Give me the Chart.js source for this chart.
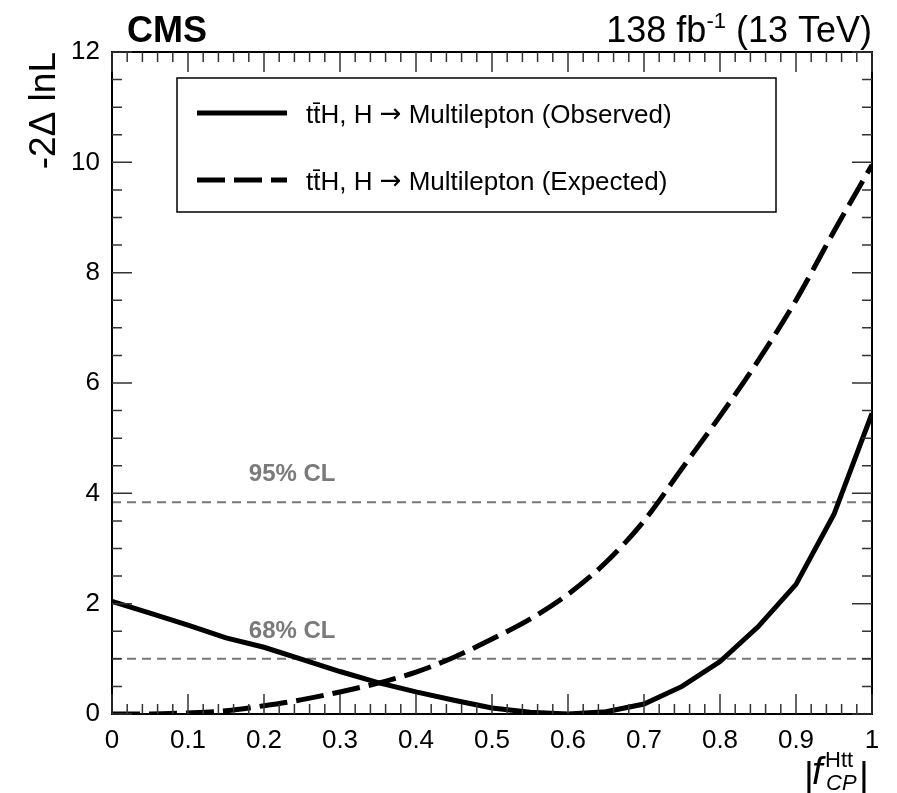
<!DOCTYPE html>
<html>
<head>
<meta charset="utf-8">
<script src="https://cdn.jsdelivr.net/npm/chart.js@4.4.1/dist/chart.umd.min.js"></script>
<style>
html,body{margin:0;padding:0;background:#fff;}
canvas{display:block;}
</style>
</head>
<body>
<canvas id="c" width="897" height="793"></canvas>
<script>
// values
const xVals = [0,0.05,0.1,0.15,0.2,0.25,0.3,0.35,0.4,0.45,0.5,0.55,0.6,0.65,0.7,0.75,0.8,0.85,0.9,0.95,1.0];
const observed = [2.04,1.83,1.61,1.38,1.21,0.99,0.77,0.57,0.40,0.25,0.11,0.03,0.00,0.04,0.18,0.50,0.95,1.58,2.35,3.62,5.45];
const expected = [0.00,0.00,0.02,0.06,0.15,0.26,0.40,0.56,0.76,1.03,1.36,1.72,2.17,2.75,3.50,4.45,5.40,6.40,7.50,8.75,9.95];
const clLevels = [3.84,1.0];
const clLabels = ['95% CL','68% CL'];
const seriesNames = [['tt\u0304H, H ','\u2192',' Multilepton (Observed)'],['tt\u0304H, H ','\u2192',' Multilepton (Expected)']];

const FONT = "'Liberation Sans', Arial, Helvetica, sans-serif";
const pts = ys => xVals.map((x,i)=>({x:x,y:ys[i]}));
const clData = lvl => [{x:0,y:lvl},{x:1,y:lvl}];

const ctx=document.getElementById('c').getContext('2d');

const rootStyle={
  id:'rootStyle',
  afterDraw(chart){
    const c=chart.ctx, a=chart.chartArea;
    const xs=chart.scales.x, ys=chart.scales.y;
    c.save();
    // frame
    c.strokeStyle='#000';c.lineWidth=2;c.setLineDash([]);
    c.strokeRect(a.left,a.top,a.right-a.left,a.bottom-a.top);
    // ticks inside the frame
    c.lineWidth=1.5;c.strokeStyle='#333';
    c.beginPath();
    for(let k=0;k<=50;k++){
      const v=k*0.02, px=xs.getPixelForValue(v);
      const len=(k%5===0)?20:10;
      c.moveTo(px,a.bottom);c.lineTo(px,a.bottom-len);
      c.moveTo(px,a.top);c.lineTo(px,a.top+len);
    }
    for(let k=0;k<=24;k++){
      const v=k*0.5, py=ys.getPixelForValue(v);
      const len=(k%4===0)?20:10;
      c.moveTo(a.left,py);c.lineTo(a.left+len,py);
      c.moveTo(a.right,py);c.lineTo(a.right-len,py);
    }
    c.stroke();

    // CL labels
    c.fillStyle='#7a7a7a';c.font='bold 24px '+FONT;c.textAlign='left';c.textBaseline='alphabetic';
    clLevels.forEach((lvl,i)=>{
      c.fillText(clLabels[i],xs.getPixelForValue(0.18),ys.getPixelForValue(lvl+0.38));
    });

    // legend box
    const lx=177,ly=78,lw=599,lh=134;
    c.fillStyle='#fff';c.fillRect(lx,ly,lw,lh);
    c.strokeStyle='#000';c.lineWidth=1.5;c.strokeRect(lx,ly,lw,lh);
    const rows=[113,180];
    chart.data.datasets.slice(0,2).forEach((ds,i)=>{
      c.strokeStyle=ds.borderColor;c.lineWidth=ds.borderWidth;
      c.setLineDash(ds.borderDash||[]);
      c.beginPath();c.moveTo(197,rows[i]);c.lineTo(287,rows[i]);c.stroke();
      c.setLineDash([]);
      c.fillStyle='#000';c.textAlign='left';
      let tx=306;
      const parts=seriesNames[i];
      c.font='26px '+FONT;c.fillText(parts[0],tx,rows[i]+10);tx+=c.measureText(parts[0]).width;
      c.font="26px 'DejaVu Sans', sans-serif";c.fillText(parts[1],tx,rows[i]+9);tx+=c.measureText(parts[1]).width;
      c.font='26px '+FONT;c.fillText(parts[2],tx,rows[i]+10);
    });

    // CMS label and lumi
    c.fillStyle='#000';
    c.font='bold 36px '+FONT;c.textAlign='left';
    c.fillText('CMS',127,42);
    c.font='36px '+FONT;c.textAlign='right';
    const tail=' (13 TeV)';
    c.fillText(tail,872,42);
    let xr=872-c.measureText(tail).width;
    c.font='22px '+FONT;
    c.fillText('-1',xr,28);
    xr-=c.measureText('-1').width;
    c.font='36px '+FONT;
    c.fillText('138 fb',xr,42);

    // y title
    c.save();
    c.translate(55,52);c.rotate(-Math.PI/2);
    c.font='37px '+FONT;c.textAlign='right';
    c.fillText('-2\u0394 lnL',0,0);
    c.restore();

    // x title |f_CP^Htt|
    c.textAlign='left';
    c.font='38px '+FONT;
    c.fillText('|',804,789);
    c.font='italic 38px '+FONT;
    c.fillText('f',812,784);
    c.font='22px '+FONT;
    c.fillText('Htt',825,767);
    c.font='italic 22px '+FONT;
    c.fillText('CP',826,790);
    c.font='38px '+FONT;
    c.fillText('|',859,789);
    c.restore();
  }
};

new Chart(ctx,{
  type:'line',
  data:{datasets:[
    {label:'Observed',data:pts(observed),borderColor:'#000',borderWidth:5,pointRadius:0,tension:0,fill:false},
    {label:'Expected',data:pts(expected),borderColor:'#000',borderWidth:5,borderDash:[28,9],pointRadius:0,cubicInterpolationMode:'monotone',fill:false},
    {label:clLabels[0],data:clData(clLevels[0]),borderColor:'#777',borderWidth:2,borderDash:[9,6],pointRadius:0,fill:false},
    {label:clLabels[1],data:clData(clLevels[1]),borderColor:'#777',borderWidth:2,borderDash:[9,6],pointRadius:0,fill:false}
  ]},
  options:{
    responsive:false,animation:false,
    layout:{padding:{left:0,right:25,top:52,bottom:0}},
    plugins:{legend:{display:false},tooltip:{enabled:false}},
    scales:{
      x:{type:'linear',min:0,max:1,
        grid:{display:false},border:{display:false},
        afterFit:s=>{s.height=79;},
        ticks:{stepSize:0.1,padding:3,color:'#000',font:{family:FONT,size:26},maxRotation:0,
          callback:v=>(v===0||v===1)?String(v):v.toFixed(1)}},
      y:{min:0,max:12,
        grid:{display:false},border:{display:false},
        afterFit:s=>{s.width=112;},
        ticks:{stepSize:2,padding:4,color:'#000',font:{family:FONT,size:26}}}
    }
  },
  plugins:[rootStyle]
});
</script>
</body>
</html>
